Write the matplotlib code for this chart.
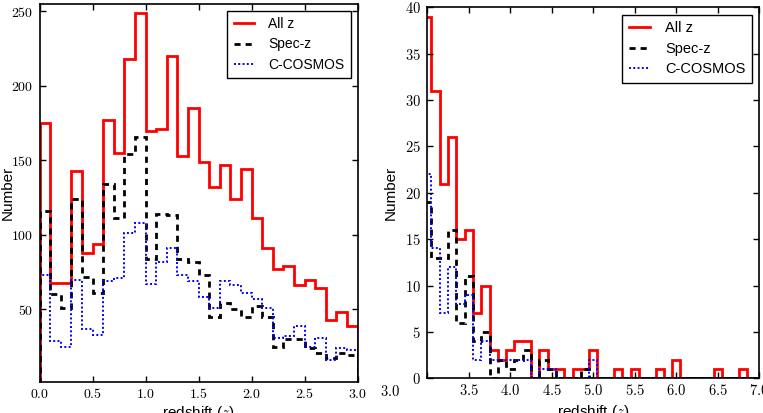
import numpy as np
import matplotlib
matplotlib.use("Agg")
import matplotlib.pyplot as plt
from matplotlib.lines import Line2D
from matplotlib.ticker import FuncFormatter, MultipleLocator

plt.rcParams["font.family"] = ["Liberation Sans", "DejaVu Sans"]
plt.rcParams["mathtext.fontset"] = "cm"

# left panel: bins of 0.1 from 0 to 3
edges_low = np.round(np.arange(0.0, 3.01, 0.1), 2)
all_low = [175, 68, 68, 143, 88, 94, 177, 155, 218, 249, 170, 171, 220, 153, 185,
           149, 132, 147, 124, 144, 111, 91, 77, 79, 66, 70, 64, 43, 48, 39]
spec_low = [116, 60, 51, 124, 72, 61, 134, 111, 154, 166, 84, 114, 113, 84, 82,
            73, 45, 54, 50, 45, 52, 45, 25, 30, 30, 24, 21, 17, 21, 19]
ccosmos_low = [73, 29, 25, 70, 37, 33, 69, 71, 101, 108, 67, 82, 91, 73, 69,
               58, 51, 69, 66, 61, 57, 51, 31, 32, 39, 25, 31, 16, 24, 23]

# right panel: bins of 0.1 centred on 3.0 ... 7.0
edges_high = np.round(np.arange(2.95, 7.06, 0.1), 2)
all_high = [39, 31, 21, 26, 15, 16, 7, 10, 3, 2,
            3, 4, 4, 0, 3, 1, 1, 0, 1, 1,
            3, 0, 0, 1, 0, 1, 0, 0, 1, 0,
            2, 0, 0, 0, 0, 1, 0, 0, 1, 0, 0]
spec_high = [19, 13, 13, 16, 6, 11, 4, 5, 0, 2,
             1, 2, 3, 0, 2, 1, 0, 0, 0, 1,
             0, 0, 0, 0, 0, 0, 0, 0, 0, 0,
             0, 0, 0, 0, 0, 0, 0, 0, 0, 0, 0]
ccosmos_high = [22, 14, 7, 12, 8, 9, 2, 4, 2, 2,
                2, 2, 2, 0, 1, 1, 0, 0, 0, 0,
                2, 0, 0, 0, 0, 0, 0, 0, 0, 0,
                0, 0, 0, 0, 0, 0, 0, 0, 0, 0, 0]

labels = ["All z", "Spec-z", "C-COSMOS"]
styles = [
    dict(color="#ff0000", lw=2.0, linestyle="-"),
    dict(color="black", lw=2.0, linestyle=(0, (2.2, 1.8))),
    dict(color="#0000ff", lw=1.4, linestyle=(0, (1.0, 1.2))),
]

W, H = 763, 413
fig = plt.figure(figsize=(W / 100, H / 100), dpi=100)


def box(x0, x1, ytop, ybot):
    return [x0 / W, 1 - ybot / H, (x1 - x0) / W, (ybot - ytop) / H]


ax1 = fig.add_axes(box(39.5, 357.7, 4, 382.3))
ax2 = fig.add_axes(box(427.3, 759.3, 7.3, 378.3))


def draw(ax, edges, series, fs):
    for vals, st in zip(series, styles):
        ax.stairs(vals, edges, baseline=0, fill=False, **st)
    handles = [Line2D([], [], **st) for st in styles]
    ax.legend(handles, labels, loc="upper right", fontsize=fs, frameon=True,
              fancybox=False, edgecolor="black", framealpha=1,
              handlelength=1.5, handletextpad=1.0, borderpad=0.45,
              labelspacing=0.45, borderaxespad=0.5)
    ax.legend_.get_frame().set_linewidth(1.0)
    ax.tick_params(direction="in", top=True, right=True, length=4, width=1,
                   labelsize=fs)
    ax.tick_params(axis="x", pad=3.5)
    ax.tick_params(axis="y", pad=4.5)
    for s in ax.spines.values():
        s.set_linewidth(1.2)
    ax.yaxis.set_major_formatter(FuncFormatter(lambda v, p: f"${v:.0f}$"))


draw(ax1, edges_low, [all_low, spec_low, ccosmos_low], 10)
ax1.set_xlim(0, 3.0)
ax1.set_ylim(1, 255)
ax1.xaxis.set_major_locator(MultipleLocator(0.5))
ax1.yaxis.set_major_locator(MultipleLocator(50))
ax1.xaxis.set_major_formatter(FuncFormatter(lambda v, p: f"${v:.1f}$"))
ax1.set_ylabel("Number", fontsize=11)
ax1.set_xlabel("redshift ($z$)", fontsize=11)
ax1.yaxis.set_label_coords((15 - 39.5) / 318.2, 0.5)
ax1.xaxis.set_label_coords(0.5, (382.3 - 404) / 378.3)

draw(ax2, edges_high, [all_high, spec_high, ccosmos_high], 10.5)
ax2.set_xlim(3.0, 7.0)
ax2.set_ylim(0, 40)
ax2.xaxis.set_major_locator(MultipleLocator(0.5))
ax2.yaxis.set_major_locator(MultipleLocator(5))
# the first x label of the right panel sits left of the axis in the original,
# so it is drawn separately below
ax2.xaxis.set_major_formatter(
    FuncFormatter(lambda v, p: "" if abs(v - 3.0) < 1e-6 else f"${v:.1f}$"))
ax2.annotate("$3.0$", xy=(3.0, 0), xycoords=ax2.get_xaxis_transform(),
             xytext=(-37 * 0.72, -4), textcoords="offset points",
             ha="center", va="top", fontsize=10.5)
ax2.set_ylabel("Number", fontsize=11)
ax2.set_xlabel("redshift ($z$)", fontsize=11)
ax2.yaxis.set_label_coords((398 - 427.3) / 332, 0.5)
ax2.xaxis.set_label_coords(0.5, (378.3 - 403) / 371)

fig.savefig("out.png", dpi=100)
